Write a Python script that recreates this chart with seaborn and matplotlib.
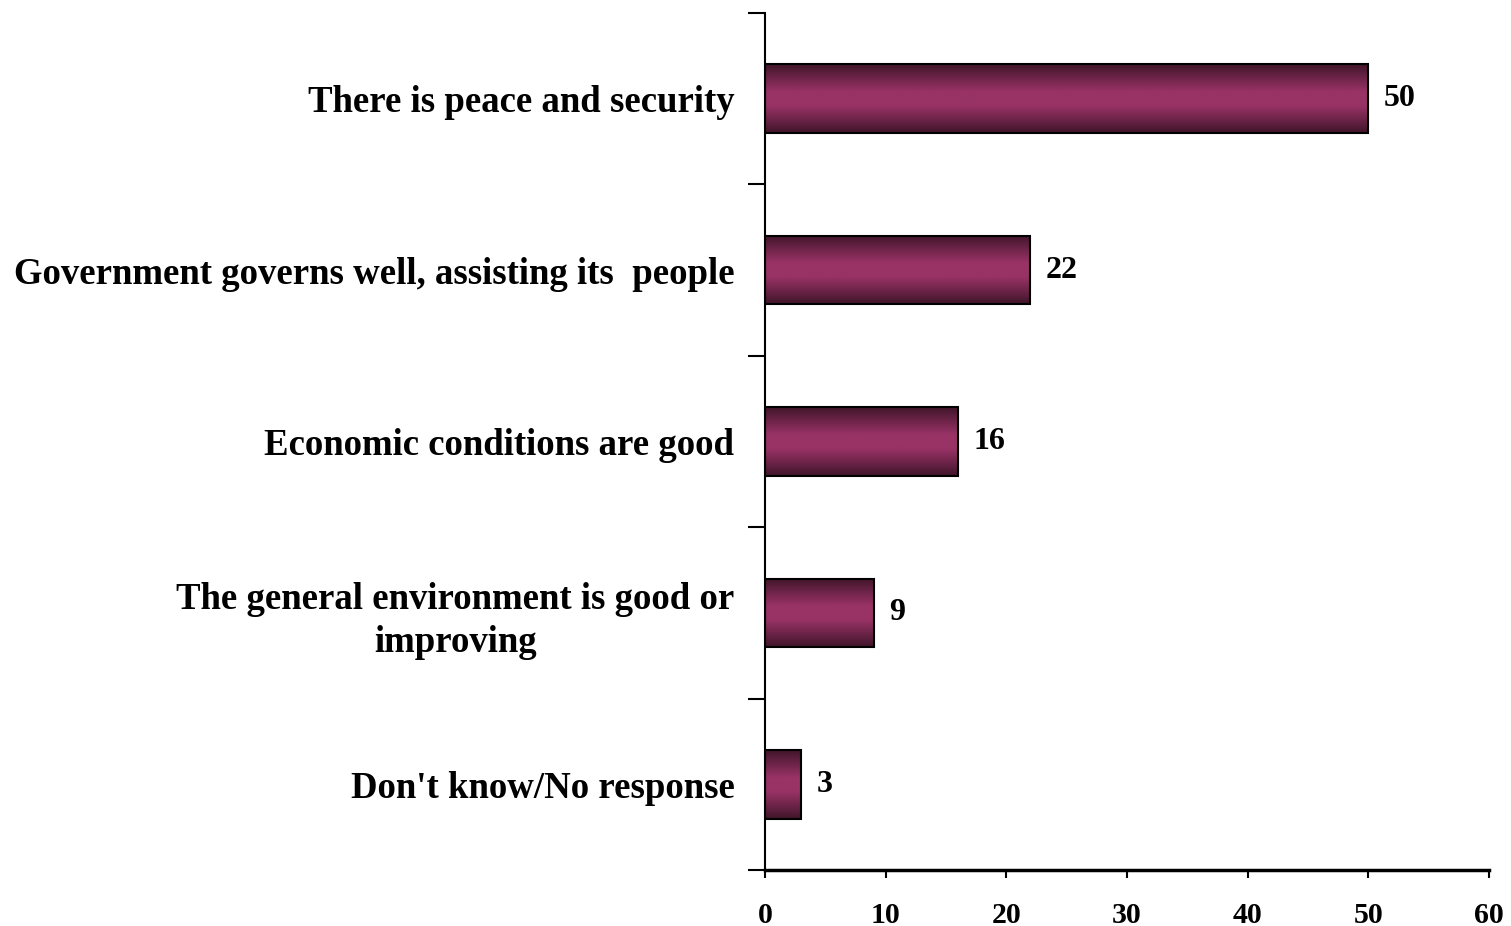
import matplotlib
matplotlib.use('Agg')
import matplotlib.pyplot as plt
import numpy as np
import pandas as pd
import seaborn as sns
from matplotlib.colors import LinearSegmentedColormap

categories = ['There is peace and security',
              'Government governs well, assisting its  people',
              'Economic conditions are good',
              'The general environment is good or\nimproving',
              "Don't know/No response"]
values = [50, 22, 16, 9, 3]
xticks = [0, 10, 20, 30, 40, 50, 60]

df = pd.DataFrame({'reason': categories, 'pct': values})

sns.set_style('white')
plt.rcParams['font.family'] = ['Liberation Serif', 'DejaVu Serif']
plt.rcParams['font.weight'] = 'bold'
for key in ['text.color', 'axes.labelcolor', 'xtick.color', 'ytick.color', 'axes.edgecolor']:
    plt.rcParams[key] = 'black'

fig = plt.figure(figsize=(15.11, 9.26), dpi=100)
ax = fig.add_axes([0.5063, 0.0605, 0.4791, 0.9255])

sns.barplot(data=df, x='pct', y='reason', orient='h', color='#993366',
            width=0.4, edgecolor='black', linewidth=1.5, ax=ax)

# cylinder-like shading: dark edges, lighter middle
shade = LinearSegmentedColormap.from_list(
    'shade', ['#3f1529', '#6e2449', '#993366', '#993366', '#6e2449', '#3f1529'])
grad = np.linspace(0, 1, 256).reshape(-1, 1)
for p in ax.patches:
    x0, y0 = p.get_x(), p.get_y()
    w, h = p.get_width(), p.get_height()
    im = ax.imshow(grad, cmap=shade, aspect='auto', extent=[x0, x0 + w, y0 + h, y0],
                   zorder=2, interpolation='bicubic')
    im.set_clip_path(p)
    p.set_facecolor('none')
    p.set_zorder(3)

ax.bar_label(ax.containers[0], labels=[str(v) for v in values], padding=11,
             fontsize=23, fontweight='bold')

ax.set_xlim(0, 60)
ax.set_ylim(4.5, -0.5)
ax.set_xticks(xticks)
ax.set_yticks([i - 0.5 for i in range(6)], minor=True)
ax.set_xlabel('')
ax.set_ylabel('')
ax.tick_params(axis='y', which='major', length=0, pad=22, labelsize=26.5)
ax.tick_params(axis='y', which='minor', length=12, width=1.5, direction='out', left=True)
ax.tick_params(axis='x', length=6, width=1.5, direction='out', bottom=True, pad=17, labelsize=21.5)
for lbl in ax.get_yticklabels():
    lbl.set_horizontalalignment('right')
    lbl.set_multialignment('center')
    lbl.set_linespacing(1.3)
    lbl.set_fontweight('bold')
for lbl in ax.get_xticklabels():
    lbl.set_fontweight('bold')

sns.despine(ax=ax, top=True, right=True)
ax.spines['left'].set_linewidth(1.5)
ax.spines['bottom'].set_linewidth(2.5)

fig.savefig('out.png', dpi=100)
